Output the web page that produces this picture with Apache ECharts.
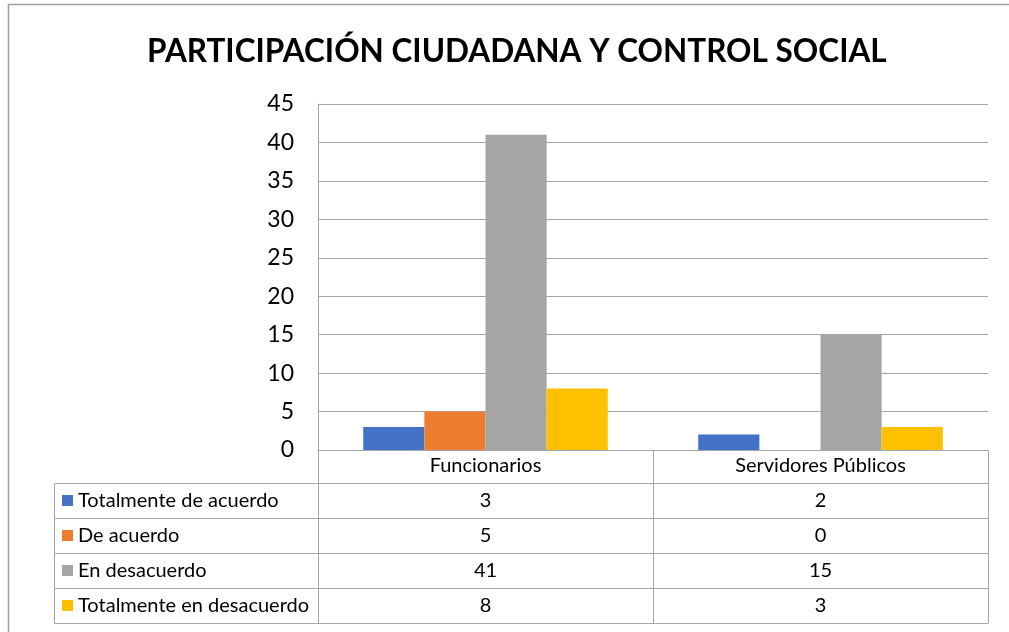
<!DOCTYPE html>
<html>
<head>
<meta charset="utf-8">
<script src="https://cdn.jsdelivr.net/npm/echarts@6/dist/echarts.min.js"></script>
<style>
html,body{margin:0;padding:0;background:#fff;}
#main{width:1009px;height:632px;}
</style>
</head>
<body>
<div id="main"></div>
<script>
// ---- data ----
const titleText = 'PARTICIPACIÓN CIUDADANA Y CONTROL SOCIAL';
const categories = ['Funcionarios', 'Servidores Públicos'];
const seriesNames = ['Totalmente de acuerdo', 'De acuerdo', 'En desacuerdo', 'Totalmente en desacuerdo'];
const totalmenteDeAcuerdo = [3, 2];
const deAcuerdo = [5, 0];
const enDesacuerdo = [41, 15];
const totalmenteEnDesacuerdo = [8, 3];
const yMin = 0, yMax = 45, yInterval = 5;

// ---- styling / layout ----
const seriesValues = [totalmenteDeAcuerdo, deAcuerdo, enDesacuerdo, totalmenteEnDesacuerdo];
const colors = ['#4472C4', '#ED7D31', '#A5A5A5', '#FFC000'];
const FONT = 'Lato';
const lineColor = '#a6a6a6';
const gridLeft = 318, gridRight = 988, gridTop = 104, gridBottom = 450;
const headerH = 33, rowH = 35;
const tableLeft = 54;
const tableFont = 20;

const chart = echarts.init(document.getElementById('main'));

const xAxes = [{
  type: 'category', data: categories, gridIndex: 0, position: 'bottom',
  axisLine: { show: true, lineStyle: { color: lineColor, width: 1 } },
  axisTick: { show: true, interval: 0, length: headerH, lineStyle: { color: lineColor } },
  axisLabel: { interval: 0, margin: 6, fontFamily: FONT, fontSize: tableFont, color: '#000' }
}];
seriesValues.forEach((vals, i) => {
  xAxes.push({
    type: 'category', data: categories, gridIndex: 0, position: 'bottom',
    offset: headerH + rowH * i,
    axisLine: { show: true, lineStyle: { color: lineColor, width: 1 } },
    axisTick: { show: true, interval: 0, length: rowH, lineStyle: { color: lineColor } },
    axisLabel: { interval: 0, margin: 8, fontFamily: FONT, fontSize: tableFont, color: '#000',
      formatter: (v, idx) => String(vals[idx]) }
  });
});
xAxes.push({
  type: 'category', data: categories, gridIndex: 0, position: 'bottom',
  offset: headerH + rowH * seriesValues.length,
  axisLine: { show: true, lineStyle: { color: lineColor, width: 1 } },
  axisTick: { show: false }, axisLabel: { show: false }
});

const graphics = [
  { type: 'rect', shape: { x: 8.5, y: 4.5, width: 1200, height: 800 },
    style: { fill: 'none', stroke: '#a0a0a0', lineWidth: 1.5 }, silent: true }
];
for (let i = 0; i < seriesValues.length; i++) {
  graphics.push({
    type: 'rect',
    shape: { x: tableLeft + 0.5, y: gridBottom + headerH + rowH * i + 0.5, width: gridLeft - tableLeft, height: rowH },
    style: { fill: 'none', stroke: lineColor, lineWidth: 1 }, silent: true
  });
}

const option = {
  backgroundColor: '#fff',
  animation: false,
  color: colors,
  title: {
    text: titleText, left: 142, top: 31,
    textStyle: { fontFamily: FONT, fontWeight: 'bold', fontSize: 31.5, color: '#000' }
  },
  legend: {
    data: seriesNames, orient: 'vertical', left: 62, top: gridBottom + headerH + 7.5,
    padding: 0, itemGap: 15, itemWidth: 11, itemHeight: 11, icon: 'rect',
    selectedMode: false,
    textStyle: { fontFamily: FONT, fontSize: tableFont, lineHeight: 20, color: '#000' }
  },
  grid: { left: gridLeft, top: gridTop, width: gridRight - gridLeft, height: gridBottom - gridTop, containLabel: false },
  xAxis: xAxes,
  yAxis: {
    type: 'value', min: yMin, max: yMax, interval: yInterval,
    axisLine: { show: true, lineStyle: { color: lineColor } },
    axisTick: { show: false },
    splitLine: { show: true, lineStyle: { color: lineColor, width: 1 } },
    axisLabel: { fontFamily: FONT, fontSize: 23, color: '#000', margin: 24 }
  },
  series: seriesNames.map((name, i) => ({
    name, type: 'bar', data: seriesValues[i], xAxisIndex: 0,
    barGap: 0, barCategoryGap: '27%',
    itemStyle: { color: colors[i] }
  })),
  graphic: graphics
};
chart.setOption(option);
</script>
</body>
</html>
